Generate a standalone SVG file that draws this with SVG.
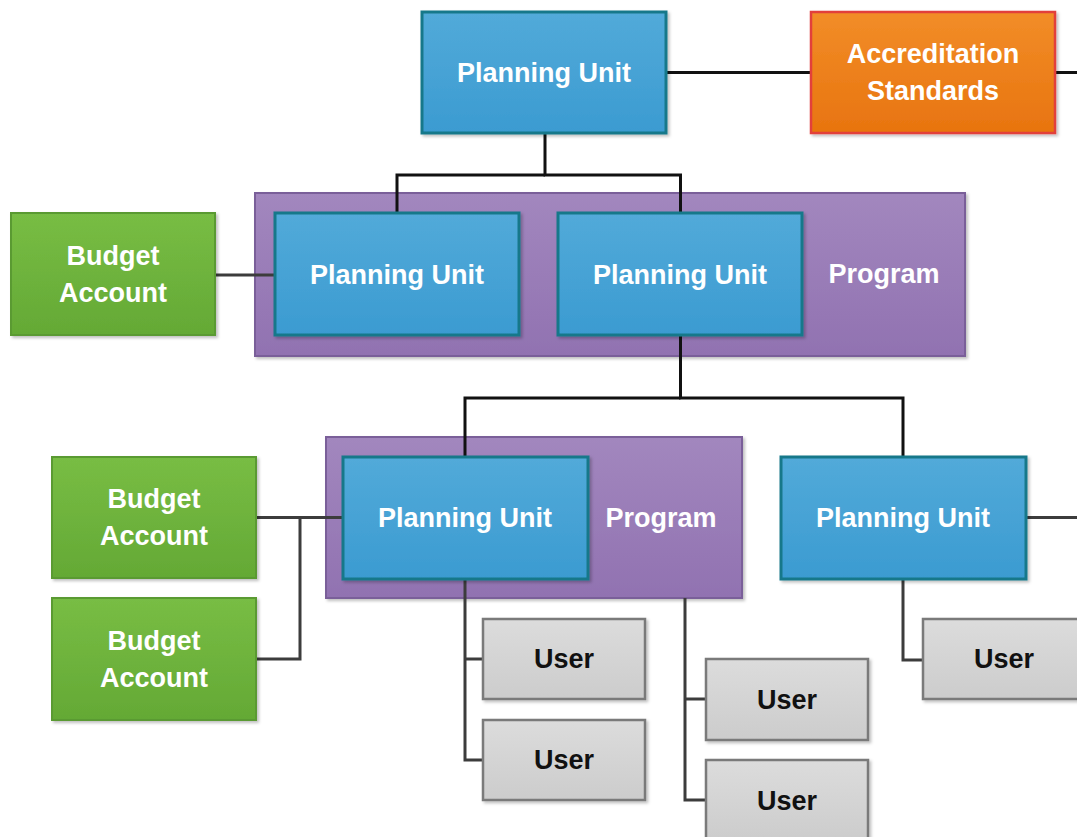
<svg xmlns="http://www.w3.org/2000/svg" width="1077" height="837" viewBox="0 0 1077 837">
<defs>
<linearGradient id="gBlue" x1="0" y1="0" x2="0" y2="1"><stop offset="0" stop-color="#52aad9"/><stop offset="1" stop-color="#3b9bd1"/></linearGradient>
<linearGradient id="gPurple" x1="0" y1="0" x2="0" y2="1"><stop offset="0" stop-color="#a287be"/><stop offset="1" stop-color="#9172b1"/></linearGradient>
<linearGradient id="gGreen" x1="0" y1="0" x2="0" y2="1"><stop offset="0" stop-color="#78bd44"/><stop offset="1" stop-color="#64a935"/></linearGradient>
<linearGradient id="gOrange" x1="0" y1="0" x2="0" y2="1"><stop offset="0" stop-color="#f28d28"/><stop offset="1" stop-color="#e8740f"/></linearGradient>
<linearGradient id="gGray" x1="0" y1="0" x2="0" y2="1"><stop offset="0" stop-color="#dcdcdc"/><stop offset="1" stop-color="#cccccc"/></linearGradient>
<filter id="sh" x="-5%" y="-5%" width="112%" height="115%"><feDropShadow dx="2" dy="2" stdDeviation="1.5" flood-color="#000" flood-opacity="0.25"/></filter>
</defs>
<style>
.t{font-family:"Liberation Sans",Arial,sans-serif;font-weight:bold;font-size:27px;text-anchor:middle;fill:#ffffff}
.tu{fill:#111111}
.blue{fill:url(#gBlue);stroke:#16788a;stroke-width:3}
.purple{fill:url(#gPurple);stroke:#7a5f99;stroke-width:2}
.green{fill:url(#gGreen);stroke:#5a9a30;stroke-width:2}
.orange{fill:url(#gOrange);stroke:#e2403a;stroke-width:2.5}
.gray{fill:url(#gGray);stroke:#7a7a7a;stroke-width:2.5}
.c1{fill:none;stroke:#111111;stroke-width:3}
.c2{fill:none;stroke:#3c3c3c;stroke-width:3}
</style>
<rect width="1077" height="837" fill="#ffffff"/>
<g id="program1"><rect class="purple" x="255" y="193" width="710" height="163" filter="url(#sh)"/><text class="t" x="884" y="283">Program</text></g>
<g id="program2"><rect class="purple" x="326" y="437" width="416" height="161" filter="url(#sh)"/><text class="t" x="661" y="527">Program</text></g>
<g id="connectors">
<path class="c1" d="M666 72.5H811"/>
<path class="c1" d="M1055 72.5H1077"/>
<path class="c1" d="M545 133V175H680.5V213"/>
<path class="c1" d="M545 175H397V213"/>
<path class="c2" d="M215 275H275"/>
<path class="c1" d="M680.5 335V398H903V457"/>
<path class="c1" d="M680.5 398H465V457"/>
<path class="c2" d="M256 517.5H343"/>
<path class="c2" d="M300 517.5V659H256"/>
<path class="c2" d="M1026 517.5H1077"/>
<path class="c2" d="M465 579V760H483"/>
<path class="c2" d="M465 659H483"/>
<path class="c2" d="M685 598V800H706"/>
<path class="c2" d="M685 699H706"/>
<path class="c2" d="M903 579V660H923"/>
</g>
<g id="pu-top"><rect class="blue" x="422" y="12" width="244" height="121" filter="url(#sh)"/><text class="t" x="544" y="82">Planning Unit</text></g>
<g id="accreditation"><rect class="orange" x="811" y="12" width="244" height="121" filter="url(#sh)"/><text class="t" x="933" y="63">Accreditation</text><text class="t" x="933" y="100">Standards</text></g>
<g id="pu-a"><rect class="blue" x="275" y="213" width="244" height="122" filter="url(#sh)"/><text class="t" x="397" y="284">Planning Unit</text></g>
<g id="pu-b"><rect class="blue" x="558" y="213" width="244" height="122" filter="url(#sh)"/><text class="t" x="680" y="284">Planning Unit</text></g>
<g id="budget1"><rect class="green" x="11" y="213" width="204" height="122" filter="url(#sh)"/><text class="t" x="113" y="265">Budget</text><text class="t" x="113" y="302">Account</text></g>
<g id="pu-c"><rect class="blue" x="343" y="457" width="245" height="122" filter="url(#sh)"/><text class="t" x="465" y="527">Planning Unit</text></g>
<g id="pu-d"><rect class="blue" x="781" y="457" width="245" height="122" filter="url(#sh)"/><text class="t" x="903" y="527">Planning Unit</text></g>
<g id="budget2"><rect class="green" x="52" y="457" width="204" height="121" filter="url(#sh)"/><text class="t" x="154" y="508">Budget</text><text class="t" x="154" y="545">Account</text></g>
<g id="budget3"><rect class="green" x="52" y="598" width="204" height="122" filter="url(#sh)"/><text class="t" x="154" y="650">Budget</text><text class="t" x="154" y="687">Account</text></g>
<g id="user1"><rect class="gray" x="483" y="619" width="162" height="80" filter="url(#sh)"/><text class="t tu" x="564" y="668">User</text></g>
<g id="user2"><rect class="gray" x="483" y="720" width="162" height="80" filter="url(#sh)"/><text class="t tu" x="564" y="769">User</text></g>
<g id="user3"><rect class="gray" x="706" y="659" width="162" height="81" filter="url(#sh)"/><text class="t tu" x="787" y="709">User</text></g>
<g id="user4"><rect class="gray" x="706" y="760" width="162" height="81" filter="url(#sh)"/><text class="t tu" x="787" y="810">User</text></g>
<g id="user5"><rect class="gray" x="923" y="619" width="162" height="80" filter="url(#sh)"/><text class="t tu" x="1004" y="668">User</text></g>
</svg>
